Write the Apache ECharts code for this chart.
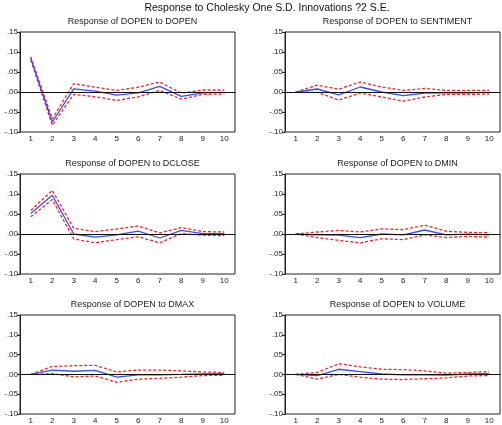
<!DOCTYPE html>
<html>
<head>
<meta charset="utf-8">
<script src="https://cdn.jsdelivr.net/npm/echarts@6/dist/echarts.min.js"></script>
<style>html,body{margin:0;padding:0;background:#fff}#c{width:502px;height:425px}</style>
</head>
<body>
<div id="c"></div>
<script>
var periods = ['1','2','3','4','5','6','7','8','9','10'];
var mainTitle = 'Response to Cholesky One S.D. Innovations ?2 S.E.';
var panelTitles = ['Response of DOPEN to DOPEN','Response of DOPEN to SENTIMENT','Response of DOPEN to DCLOSE','Response of DOPEN to DMIN','Response of DOPEN to DMAX','Response of DOPEN to VOLUME'];

var dopenResp  = [0.084,-0.075,0.008,0.002,-0.008,-0.002,0.014,-0.011,-0.002,-0.001];
var dopenUpper = [0.088,-0.067,0.021,0.012,0.004,0.012,0.025,-0.003,0.005,0.005];
var dopenLower = [0.080,-0.083,-0.006,-0.012,-0.021,-0.012,0.004,-0.018,-0.006,-0.005];

var sentResp  = [0,0.0075,-0.007,0.0125,0.0,-0.009,-0.0025,-0.002,-0.002,-0.001];
var sentUpper = [0,0.017,0.007,0.025,0.0125,0.004,0.009,0.004,0.004,0.004];
var sentLower = [0,-0.001,-0.020,-0.0025,-0.0125,-0.023,-0.0125,-0.006,-0.006,-0.005];

var closeResp  = [0.051,0.097,0.0,-0.008,-0.002,0.007,-0.010,0.009,0.001,0.001];
var closeUpper = [0.059,0.109,0.014,0.006,0.0125,0.020,0.0025,0.016,0.006,0.005];
var closeLower = [0.043,0.086,-0.0125,-0.022,-0.014,-0.007,-0.022,0.001,-0.003,-0.004];

var minResp  = [0,-0.002,-0.003,-0.009,0.0,-0.002,0.010,-0.002,-0.0005,-0.002];
var minUpper = [0,0.005,0.009,0.005,0.013,0.011,0.022,0.007,0.004,0.003];
var minLower = [0,-0.009,-0.016,-0.022,-0.012,-0.014,-0.002,-0.009,-0.006,-0.008];

var maxResp  = [0,0.011,0.008,0.010,-0.007,-0.001,-0.001,0.0,0.0015,0.002];
var maxUpper = [0,0.020,0.022,0.023,0.006,0.011,0.011,0.009,0.006,0.005];
var maxLower = [0,0.002,-0.006,-0.004,-0.020,-0.012,-0.010,-0.007,-0.003,-0.002];

var volResp  = [0,-0.003,0.013,0.007,0.001,-0.001,-0.001,-0.002,0.001,0.002];
var volUpper = [0,0.005,0.027,0.019,0.013,0.012,0.009,0.003,0.005,0.007];
var volLower = [0,-0.012,0.0,-0.007,-0.012,-0.013,-0.011,-0.009,-0.004,-0.003];

var panels = [
  [dopenResp, dopenUpper, dopenLower],
  [sentResp, sentUpper, sentLower],
  [closeResp, closeUpper, closeLower],
  [minResp, minUpper, minLower],
  [maxResp, maxUpper, maxLower],
  [volResp, volUpper, volLower]
];

var lefts = [20, 285];
var tops = [32, 174, 315];
var W = 215, H = 100;

function fmt(v){ return v.toFixed(2).replace('0.', '.'); }

var grids = [], xAxes = [], yAxes = [], series = [];
var titles = [{
  text: mainTitle, left: 262, top: -2, textAlign: 'center',
  textStyle: {fontFamily: 'Liberation Sans, Arial', fontSize: 10.5, fontWeight: 'normal', color: '#111'}
}];
panels.forEach(function(p, i){
  var col = i % 2, row = Math.floor(i / 2);
  var L = lefts[col], T = tops[row];
  grids.push({left: L, top: T, width: W, height: H, show: true, borderColor: '#222', borderWidth: 1, backgroundColor: '#fff'});
  titles.push({
    text: panelTitles[i], left: L + W / 2, top: T - 20, textAlign: 'center',
    textStyle: {fontFamily: 'Liberation Sans, Arial', fontSize: 9, fontWeight: 'normal', color: '#222'}
  });
  xAxes.push({
    type: 'category', gridIndex: i, data: periods, boundaryGap: true,
    axisLine: {lineStyle: {color: '#222', width: 1}},
    axisTick: {inside: true, length: 3, lineStyle: {color: '#222'}},
    axisLabel: {fontFamily: 'Liberation Sans, Arial', fontSize: 8, color: '#222', margin: 3, interval: 0},
    splitLine: {show: false}
  });
  yAxes.push({
    type: 'value', gridIndex: i, min: -0.10, max: 0.15, interval: 0.05,
    axisLine: {show: true, lineStyle: {color: '#222', width: 1}},
    axisTick: {show: true, inside: false, length: 3, lineStyle: {color: '#222'}},
    axisLabel: {fontFamily: 'Liberation Sans, Arial', fontSize: 8, color: '#222', margin: 2, formatter: fmt},
    splitLine: {show: false}
  });
  series.push({
    type: 'line', xAxisIndex: i, yAxisIndex: i, data: p[1], symbol: 'none', silent: true,
    lineStyle: {color: '#ff2020', width: 1.3, type: [3, 2]}, z: 3
  });
  series.push({
    type: 'line', xAxisIndex: i, yAxisIndex: i, data: p[2], symbol: 'none', silent: true,
    lineStyle: {color: '#ff2020', width: 1.3, type: [3, 2]}, z: 3
  });
  series.push({
    type: 'line', xAxisIndex: i, yAxisIndex: i, data: p[0], symbol: 'none', silent: true,
    lineStyle: {color: '#3050ff', width: 1.3}, z: 4,
    markLine: {silent: true, symbol: 'none', label: {show: false},
      lineStyle: {color: '#111', width: 1, type: 'solid'}, data: [{yAxis: 0}]}
  });
});

var chart = echarts.init(document.getElementById('c'), null, {renderer: 'canvas'});
chart.setOption({
  animation: false,
  backgroundColor: '#fff',
  title: titles,
  grid: grids,
  xAxis: xAxes,
  yAxis: yAxes,
  series: series
});
</script>
</body>
</html>
